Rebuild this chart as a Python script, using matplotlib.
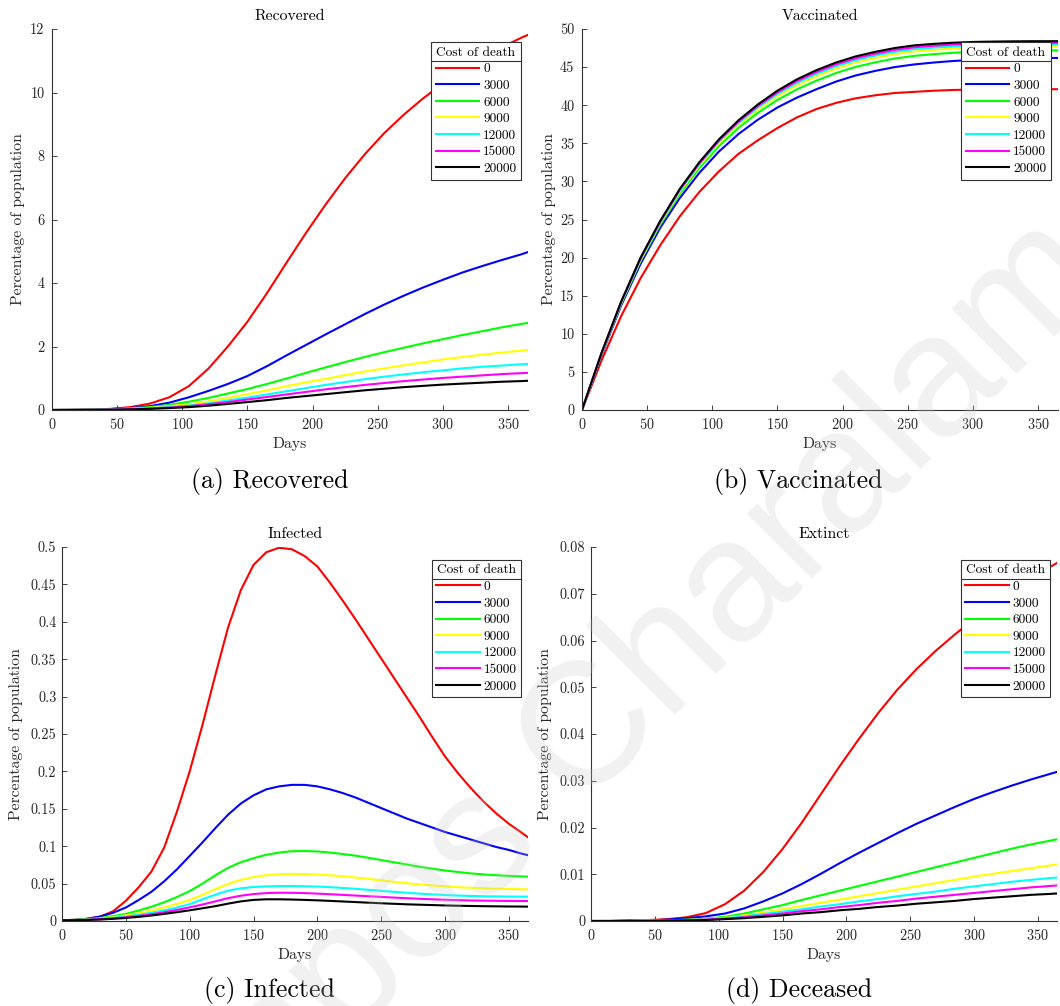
import matplotlib
matplotlib.use("Agg")
import matplotlib.pyplot as plt
from matplotlib.lines import Line2D
from matplotlib.ticker import MultipleLocator, FuncFormatter

plt.rcParams['font.family'] = 'cmr10'
plt.rcParams['mathtext.fontset'] = 'cm'
plt.rcParams['axes.formatter.use_mathtext'] = True

# days sampled from the figure
days = [0, 15, 30, 45, 60, 75, 90, 105, 120, 135, 150, 165, 180, 195, 210,
        225, 240, 255, 270, 285, 300, 315, 330, 345, 360, 365]
# the infected panel is read on a finer grid (sharper peaks)
days_inf = [0, 10, 20, 30, 40, 50, 60, 70, 80, 90, 100, 110, 120, 130, 140, 150, 160, 170, 180,
            190, 200, 210, 220, 230, 240, 250, 260, 270, 280, 290, 300, 310, 320, 330, 340,
            350, 360, 365]

costs = ['0', '3000', '6000', '9000', '12000', '15000', '20000']
colors = ['#ff0000', '#0000ff', '#00ff00', '#ffff00', '#00ffff', '#ff00ff', '#000000']

# (a) recovered, % of population
rec_0 = [0, 0.005, 0.015, 0.035, 0.09, 0.2, 0.4, 0.75, 1.3, 2.0, 2.78, 3.68, 4.64, 5.58, 6.47,
         7.3, 8.05, 8.72, 9.3, 9.82, 10.28, 10.7, 11.08, 11.42, 11.72, 11.81]
rec_3000 = [0, 0.004, 0.012, 0.03, 0.06, 0.12, 0.23, 0.4, 0.6, 0.82, 1.07, 1.38, 1.72, 2.05, 2.38,
            2.7, 3.02, 3.32, 3.6, 3.86, 4.1, 4.33, 4.53, 4.72, 4.9, 4.97]
rec_6000 = [0, 0.003, 0.01, 0.025, 0.05, 0.09, 0.16, 0.26, 0.38, 0.52, 0.66, 0.82, 0.99, 1.17, 1.34,
            1.51, 1.67, 1.82, 1.96, 2.1, 2.23, 2.36, 2.48, 2.6, 2.71, 2.74]
rec_9000 = [0, 0.002, 0.008, 0.02, 0.04, 0.07, 0.12, 0.18, 0.27, 0.38, 0.5, 0.62, 0.75, 0.87, 0.98,
            1.1, 1.21, 1.31, 1.41, 1.5, 1.59, 1.67, 1.74, 1.81, 1.87, 1.89]
rec_12000 = [0, 0.002, 0.007, 0.016, 0.03, 0.055, 0.09, 0.14, 0.21, 0.3, 0.39, 0.49, 0.59, 0.69, 0.79,
             0.88, 0.97, 1.05, 1.12, 1.19, 1.25, 1.31, 1.36, 1.4, 1.44, 1.45]
rec_15000 = [0, 0.002, 0.006, 0.014, 0.026, 0.047, 0.078, 0.12, 0.18, 0.25, 0.33, 0.41, 0.49, 0.57, 0.65,
             0.72, 0.79, 0.85, 0.91, 0.96, 1.01, 1.05, 1.09, 1.13, 1.16, 1.17]
rec_20000 = [0, 0.001, 0.005, 0.011, 0.02, 0.036, 0.06, 0.09, 0.135, 0.19, 0.25, 0.31, 0.38, 0.44, 0.5,
             0.56, 0.62, 0.67, 0.72, 0.76, 0.8, 0.83, 0.86, 0.89, 0.91, 0.92]

# (b) vaccinated
vac_0 = [0, 6.5, 12.3, 17.3, 21.6, 25.4, 28.6, 31.3, 33.6, 35.4, 37.0, 38.4, 39.5, 40.3, 40.9,
         41.3, 41.6, 41.75, 41.9, 42.0, 42.05, 42.1, 42.1, 42.1, 42.1, 42.1]
vac_3000 = [0, 7.2, 13.7, 19.2, 23.9, 27.8, 31.1, 33.9, 36.2, 38.1, 39.7, 41.0, 42.1, 43.1, 43.9,
            44.5, 45.0, 45.35, 45.6, 45.8, 45.95, 46.05, 46.12, 46.17, 46.2, 46.2]
vac_6000 = [0, 7.33, 13.92, 19.56, 24.3, 28.34, 31.73, 34.62, 37.01, 39.0, 40.69, 42.08, 43.22, 44.22, 45.02,
            45.62, 46.12, 46.47, 46.7, 46.88, 47.01, 47.09, 47.14, 47.17, 47.19, 47.19]
vac_9000 = [0, 7.4, 14.04, 19.74, 24.51, 28.62, 32.05, 34.99, 37.42, 39.46, 41.2, 42.63, 43.8, 44.8, 45.6,
            46.2, 46.7, 47.05, 47.27, 47.43, 47.55, 47.61, 47.66, 47.69, 47.7, 47.7]
vac_12000 = [0, 7.44, 14.1, 19.84, 24.62, 28.76, 32.22, 35.18, 37.64, 39.7, 41.46, 42.92, 44.1, 45.1, 45.9,
             46.5, 47.0, 47.35, 47.56, 47.72, 47.83, 47.89, 47.93, 47.95, 47.96, 47.96]
vac_15000 = [0, 7.47, 14.15, 19.92, 24.71, 28.88, 32.36, 35.34, 37.82, 39.9, 41.68, 43.16, 44.35, 45.35, 46.15,
             46.75, 47.25, 47.6, 47.8, 47.96, 48.07, 48.12, 48.15, 48.17, 48.18, 48.18]
vac_20000 = [0, 7.5, 14.2, 20.0, 24.8, 29.0, 32.5, 35.5, 38.0, 40.1, 41.9, 43.4, 44.6, 45.6, 46.4,
             47.0, 47.5, 47.85, 48.05, 48.2, 48.3, 48.35, 48.38, 48.4, 48.4, 48.4]

# (c) infected (on days_inf)
inf_0 = [0.001, 0.0015, 0.003, 0.006, 0.013, 0.027, 0.045, 0.066, 0.098, 0.146, 0.2, 0.262, 0.328,
         0.392, 0.442, 0.476, 0.493, 0.499, 0.497, 0.488, 0.474, 0.452, 0.428, 0.403, 0.377, 0.351,
         0.325, 0.299, 0.273, 0.246, 0.22, 0.198, 0.178, 0.16, 0.144, 0.13, 0.118, 0.112]
inf_3000 = [0.001, 0.0015, 0.003, 0.006, 0.011, 0.018, 0.028, 0.039, 0.053, 0.069, 0.087, 0.105, 0.124,
            0.142, 0.157, 0.168, 0.176, 0.18, 0.182, 0.182, 0.18, 0.176, 0.171, 0.165, 0.158, 0.151,
            0.144, 0.137, 0.131, 0.125, 0.119, 0.114, 0.109, 0.104, 0.099, 0.095, 0.09, 0.088]
inf_6000 = [0.001, 0.0015, 0.0025, 0.004, 0.0065, 0.0095, 0.014, 0.019, 0.025, 0.032, 0.04, 0.05, 0.061,
            0.071, 0.0785, 0.084, 0.0885, 0.0915, 0.0933, 0.0935, 0.093, 0.0915, 0.0895, 0.0873, 0.0845,
            0.0815, 0.0785, 0.0755, 0.0725, 0.07, 0.0675, 0.0655, 0.0637, 0.0623, 0.0612, 0.0603,
            0.0596, 0.0593]
inf_9000 = [0.001, 0.0013, 0.002, 0.0032, 0.005, 0.0075, 0.0105, 0.014, 0.018, 0.023, 0.028, 0.035,
            0.0425, 0.0495, 0.055, 0.0588, 0.0612, 0.0625, 0.063, 0.0628, 0.0621, 0.0611, 0.0598,
            0.0582, 0.0563, 0.0543, 0.0523, 0.0505, 0.0489, 0.0475, 0.0463, 0.0452, 0.0444, 0.0437,
            0.0432, 0.0428, 0.0425, 0.0423]
inf_12000 = [0.001, 0.0012, 0.0018, 0.0028, 0.0042, 0.006, 0.0083, 0.011, 0.0142, 0.018, 0.0225, 0.029,
             0.035, 0.0405, 0.0437, 0.0455, 0.0463, 0.0467, 0.0468, 0.0465, 0.046, 0.0452, 0.0442,
             0.043, 0.0417, 0.0403, 0.039, 0.0378, 0.0366, 0.0356, 0.0347, 0.034, 0.0335, 0.0331,
             0.0329, 0.0327, 0.0326, 0.0326]
inf_15000 = [0.001, 0.0011, 0.0016, 0.0024, 0.0035, 0.005, 0.0068, 0.009, 0.0117, 0.0148, 0.0183, 0.022,
             0.0262, 0.0305, 0.0338, 0.036, 0.0373, 0.0378, 0.0377, 0.0373, 0.0366, 0.0358, 0.0349,
             0.034, 0.0331, 0.0322, 0.0313, 0.0305, 0.0297, 0.029, 0.0284, 0.0279, 0.0275, 0.0272,
             0.027, 0.0268, 0.0267, 0.0267]
inf_20000 = [0.001, 0.001, 0.0014, 0.002, 0.0029, 0.004, 0.0055, 0.0073, 0.0095, 0.0118, 0.0143, 0.017,
             0.0198, 0.0232, 0.0262, 0.0282, 0.029, 0.029, 0.0287, 0.0282, 0.0276, 0.0269, 0.0261,
             0.0253, 0.0245, 0.0237, 0.023, 0.0223, 0.0218, 0.0213, 0.0208, 0.0204, 0.0201, 0.0198,
             0.0196, 0.0194, 0.0193, 0.0192]

# (d) deceased
dec_0 = [0, 0, 0.0001, 0.0002, 0.0004, 0.0008, 0.0017, 0.0036, 0.0065, 0.0105, 0.0154, 0.021, 0.0271, 0.0332, 0.039,
         0.0445, 0.0495, 0.0539, 0.0578, 0.0613, 0.0646, 0.0677, 0.0706, 0.0733, 0.0758, 0.0766]
dec_3000 = [0, 0, 0.0001, 0.0001, 0.0003, 0.0006, 0.001, 0.0016, 0.0027, 0.0042, 0.0059, 0.0079, 0.0101, 0.0124, 0.0146,
            0.0167, 0.0188, 0.0208, 0.0226, 0.0244, 0.0261, 0.0276, 0.029, 0.0303, 0.0315, 0.0319]
dec_6000 = [0, 0, 0, 0.0001, 0.0001, 0.0003, 0.0005, 0.0009, 0.0016, 0.0025, 0.0034, 0.0045, 0.0055, 0.0065, 0.0075,
            0.0085, 0.0095, 0.0105, 0.0115, 0.0125, 0.0135, 0.0145, 0.0155, 0.0164, 0.0172, 0.0175]
dec_9000 = [0, 0, 0, 0.0001, 0.0001, 0.0002, 0.0004, 0.0007, 0.0012, 0.0018, 0.0025, 0.0032, 0.0039, 0.0046, 0.0053,
            0.006, 0.0067, 0.0074, 0.0081, 0.0088, 0.0095, 0.0101, 0.0107, 0.0113, 0.0119, 0.0121]
dec_12000 = [0, 0, 0, 0.0001, 0.0001, 0.0002, 0.0003, 0.0006, 0.001, 0.0015, 0.002, 0.0025, 0.0031, 0.0036, 0.0042,
             0.0047, 0.0053, 0.0058, 0.0063, 0.0069, 0.0074, 0.0079, 0.0084, 0.0088, 0.0092, 0.0093]
dec_15000 = [0, 0, 0, 0.0001, 0.0001, 0.0002, 0.0003, 0.0005, 0.0008, 0.0012, 0.0016, 0.0021, 0.0025, 0.003, 0.0034,
             0.0039, 0.0043, 0.0048, 0.0052, 0.0056, 0.006, 0.0064, 0.0068, 0.0072, 0.0075, 0.0076]
dec_20000 = [0, 0, 0, 0, 0.0001, 0.0001, 0.0002, 0.0004, 0.0006, 0.0009, 0.0012, 0.0016, 0.0019, 0.0023, 0.0026,
             0.003, 0.0033, 0.0037, 0.004, 0.0043, 0.0047, 0.005, 0.0053, 0.0056, 0.0058, 0.0059]

recovered = [rec_0, rec_3000, rec_6000, rec_9000, rec_12000, rec_15000, rec_20000]
vaccinated = [vac_0, vac_3000, vac_6000, vac_9000, vac_12000, vac_15000, vac_20000]
infected = [inf_0, inf_3000, inf_6000, inf_9000, inf_12000, inf_15000, inf_20000]
deceased = [dec_0, dec_3000, dec_6000, dec_9000, dec_12000, dec_15000, dec_20000]

W, H = 1060, 1006
fig = plt.figure(figsize=(W / 100, H / 100), dpi=100)

def px_axes(left, top, right, bottom):
    return fig.add_axes([left / W, 1 - bottom / H, (right - left) / W, (bottom - top) / H])

# axes, title, x, series, ymax, ystep, caption, caption x/y, ylabel offset, ytick pad
panels = [
    (px_axes(52, 29, 527.5, 410), 'Recovered', days, recovered, 12, 2, '(a) Recovered', 270, 488, 26.5, 5.4),
    (px_axes(582, 29, 1057.5, 410), 'Vaccinated', days, vaccinated, 50, 5, '(b) Vaccinated', 798, 488, 26.5, 5.4),
    (px_axes(62, 547, 528, 921), 'Infected', days_inf, infected, 0.5, 0.05, '(c) Infected', 269, 997, 39, 4),
    (px_axes(591, 547, 1057, 921), 'Extinct', days, deceased, 0.08, 0.01, '(d) Deceased', 799, 997, 39, 4),
]

axis_col = '#262626'
legends = []
for ax, title, x, series, ymax, ystep, caption, cx, cy, yoff, ypad in panels:
    for vals, c, lab in zip(series, colors, costs):
        ax.plot(x, vals, color=c, lw=1.5, label=lab)
    ax.set_xlim(0, 365)
    ax.set_ylim(0, ymax)
    ax.xaxis.set_major_locator(MultipleLocator(50))
    ax.yaxis.set_major_locator(MultipleLocator(ystep))
    ax.yaxis.set_major_formatter(FuncFormatter(lambda v, p: '%g' % round(v, 4)))
    ax.spines['top'].set_visible(False)
    ax.spines['right'].set_visible(False)
    for s in ['left', 'bottom']:
        ax.spines[s].set_color('#333333')
        ax.spines[s].set_linewidth(0.8)
    ax.tick_params(direction='in', length=3.5, width=0.6, color=axis_col,
                   labelcolor=axis_col, labelsize=10.3)
    ax.tick_params(axis='x', pad=5)
    ax.tick_params(axis='y', pad=ypad)
    ax.set_title(title, fontsize=11.3, pad=6.5)
    ax.set_xlabel('Days', fontsize=11.3, color=axis_col)
    ax.set_ylabel('Percentage of population', fontsize=11.3, color=axis_col)
    ax.xaxis.set_label_coords(0.5, -0.072)
    wpx = ax.get_position().width * W
    ax.yaxis.set_label_coords(-yoff / wpx, 0.5)
    leg = ax.legend(title='Cost of death', loc='upper right', bbox_to_anchor=(0.986, 0.966),
                    borderaxespad=0, fontsize=9.6, title_fontsize=9.6, fancybox=False,
                    framealpha=1, edgecolor='#333333', handlelength=3.25, handletextpad=0.3,
                    labelspacing=0.32, borderpad=0.35)
    leg.get_frame().set_linewidth(0.8)
    legends.append(leg)
    fig.text(cx / W, 1 - cy / H, caption, fontsize=18.6, ha='center', va='baseline')

# separator line under the legend title
fig.canvas.draw()
for leg in legends:
    fb = leg.get_frame().get_window_extent()
    tb = leg.get_title().get_window_extent()
    eb = leg.get_texts()[0].get_window_extent()
    y = (tb.y0 + eb.y1) / 2
    fig.add_artist(Line2D([fb.x0 / W, fb.x1 / W], [y / H, y / H], transform=fig.transFigure,
                          color='#333333', lw=0.8, zorder=10))

# faint watermark
fig.text(646 / W, 1 - 681 / H, 'mpos Charalam', rotation=45, rotation_mode='anchor',
         ha='center', va='center', fontsize=125, family='Liberation Sans',
         color='#c8c8c8', alpha=0.25, zorder=20)

fig.savefig('out.png', dpi=100)
